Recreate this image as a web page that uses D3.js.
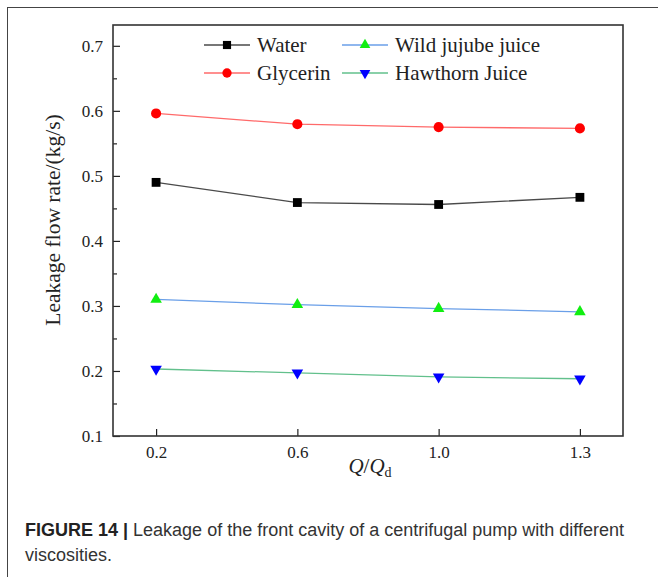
<!DOCTYPE html>
<html>
<head>
<meta charset="utf-8">
<script src="https://cdn.jsdelivr.net/npm/d3@7"></script>
<style>
  body { margin: 0; background: #fff; }
  svg { display: block; }
</style>
</head>
<body>
<div id="chart"></div>
<script>
// Data
const categories = ['0.2', '0.6', '1.0', '1.3'];
const water = [0.490, 0.459, 0.456, 0.467];
const glycerin = [0.596, 0.5795, 0.575, 0.573];
const wildJujube = [0.310, 0.302, 0.296, 0.291];
const hawthorn = [0.203, 0.197, 0.191, 0.188];
const seriesNames = ['Water', 'Glycerin', 'Wild jujube juice', 'Hawthorn Juice'];
const yTicks = [0.1, 0.2, 0.3, 0.4, 0.5, 0.6, 0.7];
const yMinorTicks = [0.15, 0.25, 0.35, 0.45, 0.55, 0.65];

const width = 658;
const height = 577;
const plot = { left: 113, top: 25, right: 623, bottom: 436 };

const series = [
  { name: seriesNames[0], values: water, line: '#4a4a4a', fill: '#000', symbol: d3.symbolSquare, size: 78, rotate: 0 },
  { name: seriesNames[1], values: glycerin, line: '#ff6a6a', fill: '#ff0000', symbol: d3.symbolCircle, size: 80, rotate: 0 },
  { name: seriesNames[2], values: wildJujube, line: '#6a9fe8', fill: '#11ee11', symbol: d3.symbolTriangle, size: 58, rotate: 0 },
  { name: seriesNames[3], values: hawthorn, line: '#62c08c', fill: '#0000ff', symbol: d3.symbolTriangle, size: 58, rotate: 180 }
];

const svg = d3.select('#chart')
  .append('svg')
  .attr('width', width)
  .attr('height', height);

// outer figure box (runs off the right and bottom)
svg.append('rect')
  .attr('x', 7.5).attr('y', 7.5)
  .attr('width', 800).attr('height', 800)
  .attr('fill', 'none')
  .attr('stroke', '#444')
  .attr('stroke-width', 1);

const x = d3.scalePoint()
  .domain(categories)
  .range([plot.left, plot.right])
  .padding(0.305);

const y = d3.scaleLinear()
  .domain([0.1, 0.732])
  .range([plot.bottom, plot.top]);

const serif = '"Liberation Serif", "Times New Roman", serif';

// minor y ticks
svg.append('g')
  .attr('transform', `translate(${plot.left},0)`)
  .call(d3.axisLeft(y).tickValues(yMinorTicks).tickSize(-4).tickFormat(''))
  .call(g => g.select('.domain').remove())
  .selectAll('line').attr('stroke', '#222').attr('stroke-width', 1.2);

// y axis
svg.append('g')
  .attr('transform', `translate(${plot.left},0)`)
  .call(d3.axisLeft(y).tickValues(yTicks).tickSize(-7).tickPadding(10).tickFormat(d3.format('.1f')))
  .call(g => g.select('.domain').remove())
  .call(g => g.selectAll('line').attr('stroke', '#222').attr('stroke-width', 1.2))
  .call(g => g.selectAll('text')
    .attr('font-family', serif)
    .attr('font-size', 17)
    .attr('fill', '#222'));

// x axis
svg.append('g')
  .attr('transform', `translate(0,${plot.bottom})`)
  .call(d3.axisBottom(x).tickSize(-7).tickPadding(10))
  .call(g => g.select('.domain').remove())
  .call(g => g.selectAll('line').attr('stroke', '#222').attr('stroke-width', 1.2))
  .call(g => g.selectAll('text')
    .attr('font-family', serif)
    .attr('font-size', 17)
    .attr('fill', '#222'));

// plot frame
svg.append('rect')
  .attr('x', plot.left).attr('y', plot.top)
  .attr('width', plot.right - plot.left)
  .attr('height', plot.bottom - plot.top)
  .attr('fill', 'none')
  .attr('stroke', '#333')
  .attr('stroke-width', 1.6);

// lines and markers
const line = d3.line()
  .x((d, i) => x(categories[i]))
  .y(d => y(d));

series.forEach(s => {
  svg.append('path')
    .datum(s.values)
    .attr('d', line)
    .attr('fill', 'none')
    .attr('stroke', s.line)
    .attr('stroke-width', 1.3);

  svg.selectAll(null)
    .data(s.values)
    .enter()
    .append('path')
    .attr('d', d3.symbol().type(s.symbol).size(s.size))
    .attr('transform', (d, i) => `translate(${x(categories[i])},${y(d)}) rotate(${s.rotate})`)
    .attr('fill', s.fill);
});

// legend
const legendPos = [
  { x: 204, y: 45 }, { x: 204, y: 73 },
  { x: 342, y: 45 }, { x: 342, y: 73 }
];
series.forEach((s, i) => {
  const p = legendPos[i];
  const g = svg.append('g').attr('transform', `translate(${p.x},${p.y})`);
  g.append('line')
    .attr('x1', 0).attr('x2', 46)
    .attr('y1', 0).attr('y2', 0)
    .attr('stroke', s.line)
    .attr('stroke-width', 1.3);
  g.append('path')
    .attr('d', d3.symbol().type(s.symbol).size(s.size * 0.85))
    .attr('transform', `translate(23,0) rotate(${s.rotate})`)
    .attr('fill', s.fill);
  g.append('text')
    .attr('x', 53)
    .attr('y', 7)
    .attr('font-family', serif)
    .attr('font-size', 21)
    .attr('fill', '#222')
    .text(s.name);
});

// axis titles
svg.append('text')
  .attr('transform', 'translate(60,220) rotate(-90)')
  .attr('text-anchor', 'middle')
  .attr('font-family', serif)
  .attr('font-size', 21.5)
  .attr('fill', '#222')
  .text('Leakage flow rate/(kg/s)');

const xTitle = svg.append('text')
  .attr('x', (plot.left + plot.right) / 2 + 2)
  .attr('y', 473)
  .attr('text-anchor', 'middle')
  .attr('font-family', serif)
  .attr('font-size', 21)
  .attr('fill', '#222');
xTitle.append('tspan').attr('font-style', 'italic').text('Q');
xTitle.append('tspan').text('/');
xTitle.append('tspan').attr('font-style', 'italic').text('Q');
xTitle.append('tspan').attr('font-size', 14).attr('dy', 4).text('d');

// caption
const sans = '"Liberation Sans", Arial, sans-serif';
const cap = svg.append('text')
  .attr('x', 25)
  .attr('y', 536)
  .attr('font-family', sans)
  .attr('font-size', 18)
  .attr('fill', '#333');
cap.append('tspan').attr('font-weight', 'bold').attr('fill', '#222').text('FIGURE 14 | ');
cap.append('tspan').text('Leakage of the front cavity of a centrifugal pump with different');

svg.append('text')
  .attr('x', 25)
  .attr('y', 561)
  .attr('font-family', sans)
  .attr('font-size', 18)
  .attr('fill', '#333')
  .text('viscosities.');
</script>
</body>
</html>
